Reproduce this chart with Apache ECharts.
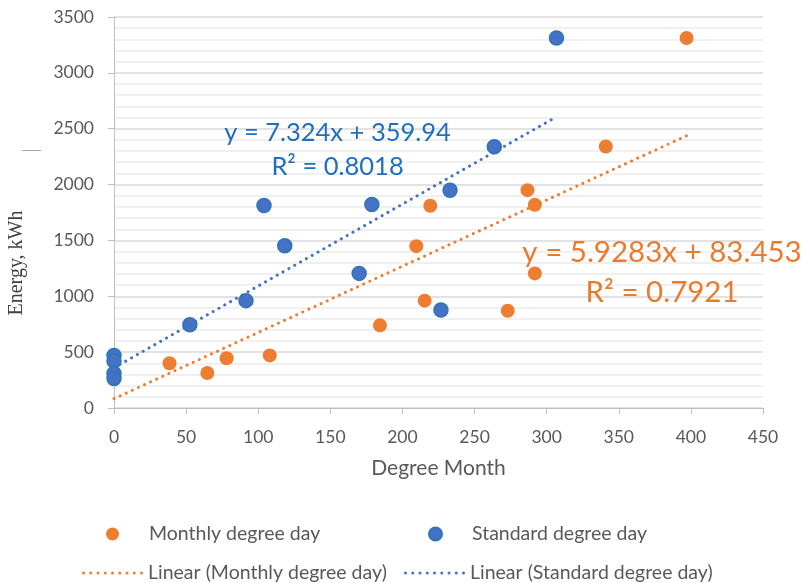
<!DOCTYPE html>
<html><head><meta charset="utf-8">
<script src="https://cdn.jsdelivr.net/npm/echarts@6/dist/echarts.min.js"></script>
<style>html,body{margin:0;padding:0;background:#fff;}#c{width:802px;height:583px;}</style>
</head><body><div id="c"></div>
<script>
// Monthly degree day (orange)
const monthlyX = [38.5, 64.7, 78.1, 108, 184.4, 209.6, 215.4, 219.3, 273, 286.7, 291.8, 291.8, 341, 397];
const monthlyY = [400, 313, 445, 471, 740, 1449, 961, 1810, 871, 1950, 1819, 1205, 2341, 3312];
// Standard degree day (blue)
const standardX = [0, 0, 0, 0, 52.6, 91.5, 104, 118.4, 170, 178.8, 226.7, 233, 263.7, 306.8];
const standardY = [470, 420, 310, 265, 746, 961, 1813, 1452, 1205, 1822, 877, 1950, 2338, 3312];
// Trendline coefficients [slope, intercept] and x range
const monthlyFit = [5.9283, 83.453];
const monthlyFitRange = [0, 397];
const standardFit = [7.324, 359.94];
const standardFitRange = [0, 306.8];
const monthlyEq = ['y = 5.9283x + 83.453', 'R² = 0.7921'];
const standardEq = ['y = 7.324x + 359.94', 'R² = 0.8018'];
const xTicks = [0, 50, 100, 150, 200, 250, 300, 350, 400, 450];
const yTicks = [0, 500, 1000, 1500, 2000, 2500, 3000, 3500];

const ORANGE = '#ED7D31', BLUE = '#4472C4', BLUE_EDGE = '#2E75B6';
const TXT = '#595959';
const FONT = 'Lato';

const chart = echarts.init(document.getElementById('c'), null, {renderer: 'canvas'});
const zip = (xs, ys) => xs.map((x, i) => [x, ys[i]]);
const fitLine = (f, r) => r.map(x => [x, f[0] * x + f[1]]);

// dotted legend icon: 9 small dots across a 61 x 3 box
let dots = '';
for (let i = 0; i < 9; i++) {
  const cx = 1.5 + i * 7.25;
  dots += `M${cx - 1.5},1.5 a1.5,1.5 0 1,0 3,0 a1.5,1.5 0 1,0 -3,0 `;
}
const dotIcon = 'path://' + dots;

const legendText = {color: TXT, fontFamily: FONT, fontSize: 19.5};
const circleLegend = (name, left) => ({
  left: left, top: 524, padding: 0, itemGap: 0, itemWidth: 13, itemHeight: 13,
  selectedMode: false, data: [{name: name, icon: 'circle'}],
  textStyle: Object.assign({padding: [0, 0, 0, 25]}, legendText)
});
const lineLegend = (name, left) => ({
  left: left, top: 563, padding: 0, itemGap: 0, itemWidth: 61, itemHeight: 3,
  selectedMode: false, data: [{name: name, icon: dotIcon}],
  textStyle: Object.assign({}, legendText)
});

chart.setOption({
  animation: false,
  backgroundColor: '#fff',
  grid: {left: 114, right: 39, top: 17, bottom: 175, containLabel: false},
  xAxis: {
    type: 'value', min: xTicks[0], max: xTicks[xTicks.length - 1], interval: 50,
    name: 'Degree Month', nameLocation: 'middle', nameGap: 50,
    nameTextStyle: {color: TXT, fontFamily: FONT, fontSize: 21},
    axisLine: {show: true, lineStyle: {color: '#BFBFBF', width: 1}},
    axisTick: {show: true, length: 6, lineStyle: {color: '#BFBFBF'}},
    axisLabel: {color: TXT, fontFamily: FONT, fontSize: 17.5, margin: 20, formatter: v => String(v)},
    splitLine: {show: false}
  },
  yAxis: {
    type: 'value', min: yTicks[0], max: yTicks[yTicks.length - 1], interval: 500,
    axisLine: {show: true, lineStyle: {color: '#BFBFBF', width: 1}},
    axisTick: {show: true, length: 6, lineStyle: {color: '#BFBFBF'}},
    axisLabel: {color: TXT, fontFamily: FONT, fontSize: 17.5, margin: 20, formatter: v => String(v)},
    splitLine: {show: true, lineStyle: {color: '#D9D9D9', width: 1.5}},
    minorTick: {show: false, splitNumber: 5},
    minorSplitLine: {show: true, lineStyle: {color: '#ECECEC', width: 1.5}}
  },
  legend: [
    circleLegend('Monthly degree day', 106),
    circleLegend('Standard degree day', 428),
    lineLegend('Linear (Monthly degree day)', 82),
    lineLegend('Linear (Standard degree day)', 404)
  ],
  series: [
    {
      name: 'Linear (Monthly degree day)', type: 'line', data: fitLine(monthlyFit, monthlyFitRange),
      showSymbol: false, symbol: 'none', z: 1, silent: true,
      lineStyle: {color: ORANGE, width: 3, type: [0.1, 6.6], cap: 'round'},
      itemStyle: {color: ORANGE}
    },
    {
      name: 'Linear (Standard degree day)', type: 'line', data: fitLine(standardFit, standardFitRange),
      showSymbol: false, symbol: 'none', z: 1, silent: true,
      lineStyle: {color: BLUE, width: 3, type: [0.1, 6.6], cap: 'round'},
      itemStyle: {color: BLUE}
    },
    {
      name: 'Monthly degree day', type: 'scatter', data: zip(monthlyX, monthlyY),
      symbol: 'circle', symbolSize: 14, z: 3,
      itemStyle: {color: ORANGE, opacity: 1}
    },
    {
      name: 'Standard degree day', type: 'scatter', data: zip(standardX, standardY),
      symbol: 'circle', symbolSize: 14, z: 4,
      itemStyle: {color: BLUE, borderColor: BLUE_EDGE, borderWidth: 1.5, opacity: 1}
    }
  ]
});

// equation labels anchored in data coordinates
const P = p => chart.convertToPixel({gridIndex: 0}, p);
const b1 = P([155, 2460]), b2 = P([155, 2160]);
const o1 = P([380, 1390]), o2 = P([380, 1035]);
const eqText = (pt, txt, color, size) => ({
  type: 'text', x: pt[0], y: pt[1], z: 10,
  style: {text: txt, fill: color, font: size + 'px Lato', align: 'center', verticalAlign: 'middle'}
});
chart.setOption({
  graphic: [
    eqText(b1, standardEq[0], '#1F6FBF', 25.5),
    eqText(b2, standardEq[1], '#1F6FBF', 25.5),
    eqText(o1, monthlyEq[0], '#E97B2F', 29.5),
    eqText(o2, monthlyEq[1], '#E97B2F', 29.5),
    {type: 'text', x: 17, y: 263, rotation: Math.PI / 2, z: 10,
     style: {text: 'Energy, kWh', fill: '#404040', font: '20px "Liberation Serif", serif', align: 'center', verticalAlign: 'middle'}},
    {type: 'line', z: 10, shape: {x1: 22, y1: 150.5, x2: 41, y2: 150.5}, style: {stroke: '#A6A6A6', lineWidth: 1}}
  ]
});
</script>
</body></html>
